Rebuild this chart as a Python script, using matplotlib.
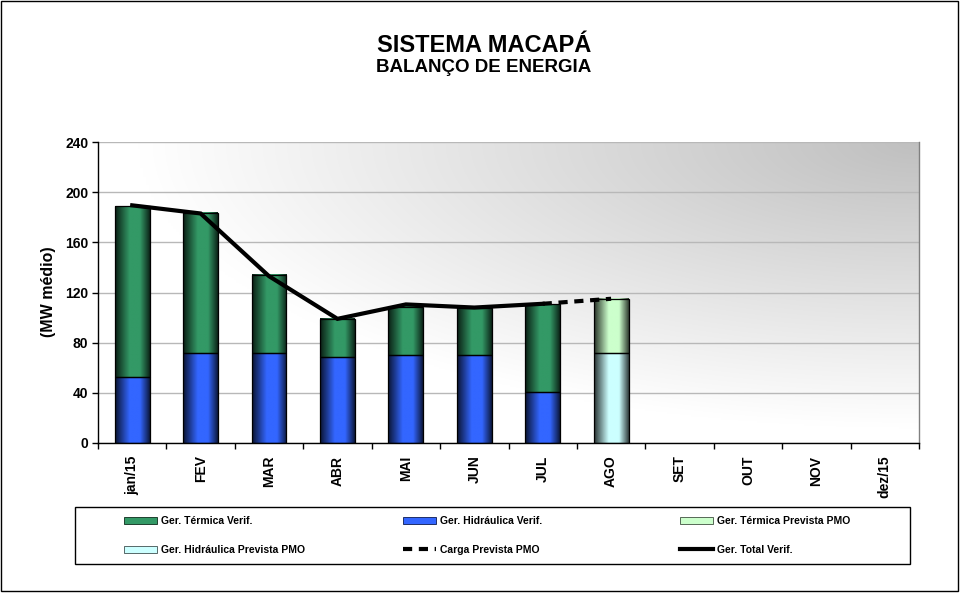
import numpy as np
import matplotlib
matplotlib.use("Agg")
import matplotlib.pyplot as plt
from matplotlib.patches import Rectangle, Patch
from matplotlib.lines import Line2D

# ---- data ----
meses = ["jan/15", "FEV", "MAR", "ABR", "MAI", "JUN", "JUL", "AGO", "SET", "OUT", "NOV", "dez/15"]
hidr_verif = [52.9, 71.5, 71.5, 68.3, 69.9, 69.9, 40.9, np.nan, np.nan, np.nan, np.nan, np.nan]
term_verif = [136.1, 111.7, 62.2, 30.3, 38.8, 37.5, 69.9, np.nan, np.nan, np.nan, np.nan, np.nan]
hidr_prev = [np.nan] * 7 + [71.5] + [np.nan] * 4
term_prev = [np.nan] * 7 + [43.1] + [np.nan] * 4
ger_total = [189.5, 183.0, 133.0, 99.0, 110.5, 108.0, 111.0, np.nan, np.nan, np.nan, np.nan, np.nan]
carga_prev = [np.nan] * 6 + [111.0, 115.0] + [np.nan] * 4
yticks = [0, 40, 80, 120, 160, 200, 240]

W, H = 961, 594
fig = plt.figure(figsize=(W / 100, H / 100), dpi=100)
fig.patch.set_facecolor("white")
ax = fig.add_axes([98 / W, 1 - 443 / H, 821 / W, 301 / H])

FONT = ["Liberation Sans", "DejaVu Sans"]
NARROW = ["Liberation Sans Narrow", "Liberation Sans", "DejaVu Sans"]
plt.rcParams["font.family"] = FONT

# background gradient (white lower-left -> gray upper-right)
nx, ny = 300, 200
gx, gy = np.meshgrid(np.linspace(0, 1, nx), np.linspace(0, 1, ny))
r = np.sqrt((1 - gx) ** 2 * 1.0 + (1 - gy) ** 2) / 0.95
val = 0.75 + 0.25 * np.clip(r, 0, 1)
bg = np.dstack([val, val, val])
ax.imshow(bg, extent=(0, 1, 0, 1), transform=ax.transAxes, origin="lower",
          aspect="auto", zorder=0, interpolation="bilinear")

x = np.arange(len(meses))
bw = 0.51

def shade(base, n=64):
    t = np.linspace(0, 1, n)
    f = np.interp(t, [0, 0.42, 0.72, 1.0], [0.2, 1.0, 1.0, 0.25])
    c = np.array(matplotlib.colors.to_rgb(base))
    return np.clip(c[None, :] * f[:, None], 0, 1)[None, :, :]

def gradient_bars(bars, base):
    img = shade(base)
    for p in bars:
        h = p.get_height()
        if not np.isfinite(h) or h == 0:
            continue
        x0, y0, w = p.get_x(), p.get_y(), p.get_width()
        ax.imshow(img, extent=(x0, x0 + w, y0, y0 + h), aspect="auto",
                  zorder=2, interpolation="bilinear")
        ax.add_patch(Rectangle((x0, y0), w, h, fill=False, edgecolor="black",
                               lw=0.9, zorder=3))

c_term, c_hidr, c_tprev, c_hprev = "#339966", "#3366FF", "#CCFFCC", "#CCFFFF"

b1 = ax.bar(x, hidr_verif, bw, color="none", zorder=2)
b2 = ax.bar(x, term_verif, bw, bottom=hidr_verif, color="none", zorder=2)
b3 = ax.bar(x, hidr_prev, bw, color="none", zorder=2)
b4 = ax.bar(x, term_prev, bw, bottom=hidr_prev, color="none", zorder=2)
gradient_bars(b1, c_hidr)
gradient_bars(b2, c_term)
gradient_bars(b3, c_hprev)
gradient_bars(b4, c_tprev)

ax.plot(x, carga_prev, color="black", lw=3, ls=(0, (2.2, 1.6)), zorder=5,
        solid_capstyle="butt")
ax.plot(x, ger_total, color="black", lw=3, zorder=6, solid_joinstyle="miter")

ax.set_xlim(-0.5, len(meses) - 0.5)
ax.set_ylim(0, 240)
ax.set_axisbelow(True)
ax.set_yticks(yticks)
ax.set_yticklabels([str(v) for v in yticks], fontsize=10, fontweight="bold", family=FONT)
ax.yaxis.grid(True, color="#B8B8B8", lw=1)

ax.set_xticks(x)
ax.set_xticklabels(meses, rotation=90, fontsize=10, fontweight="bold", family=FONT)
ax.set_xticks(np.arange(-0.5, len(meses)), minor=True)
ax.tick_params(axis="x", which="major", length=0, pad=9)
ax.tick_params(axis="x", which="minor", length=4, width=1, direction="out")
ax.tick_params(axis="y", length=4, width=1, direction="out", pad=3)

ax.spines["top"].set_visible(False)
ax.spines["right"].set_color("#808080")
ax.spines["left"].set_color("black")
ax.spines["bottom"].set_color("black")
for s in ax.spines.values():
    s.set_linewidth(1)
    s.set_zorder(7)

fig.text(48 / W, 1 - 292 / H, "(MW médio)", rotation=90, ha="center", va="center",
         fontsize=11.5, fontweight="bold", family=FONT)
fig.text(484 / W, 1 - 45 / H, "SISTEMA MACAPÁ", ha="center", va="center",
         fontsize=17, fontweight="bold", family=FONT)
fig.text(484 / W, 1 - 68 / H, "BALANÇO DE ENERGIA", ha="center", va="center",
         fontsize=13.5, fontweight="bold", family=FONT)

# legend
fig.add_artist(Rectangle((75 / W, 1 - 564 / H), 835 / W, 57 / H, transform=fig.transFigure,
                         fill=False, edgecolor="black", lw=1))
cols = [
    [(Patch(facecolor=c_term, edgecolor="#0b2a1a", lw=0.6), "Ger. Térmica Verif."),
     (Patch(facecolor=c_hprev, edgecolor="#405050", lw=0.6), "Ger. Hidráulica Prevista PMO")],
    [(Patch(facecolor=c_hidr, edgecolor="#0b1a50", lw=0.6), "Ger. Hidráulica Verif."),
     (Line2D([], [], color="black", lw=3, ls=(0, (2.2, 1.6))), "Carga Prevista PMO")],
    [(Patch(facecolor=c_tprev, edgecolor="#405040", lw=0.6), "Ger. Térmica Prevista PMO"),
     (Line2D([], [], color="black", lw=3), "Ger. Total Verif.")],
]
for xpos, entries in zip([124, 403, 680], cols):
    leg = fig.legend([e[0] for e in entries], [e[1] for e in entries],
                     loc="center left", bbox_to_anchor=(xpos / W, 1 - 535.5 / H),
                     frameon=False, borderpad=0, borderaxespad=0, handlelength=3.2,
                     handletextpad=0.35, labelspacing=1.85,
                     prop={"family": NARROW, "weight": "bold", "size": 7.5})

fig.add_artist(Rectangle((1 / W, 1 - 591 / H), 957 / W, 590 / H, transform=fig.transFigure,
                         fill=False, edgecolor="black", lw=1))

fig.savefig("out.png", dpi=100)
